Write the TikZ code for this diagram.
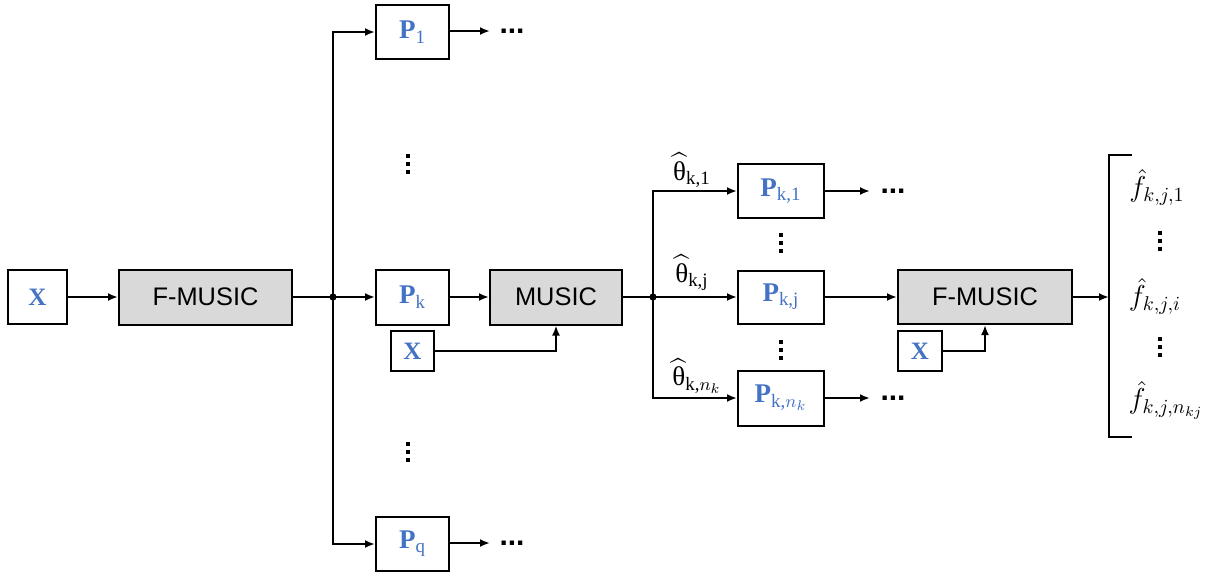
\documentclass[tikz,border=0pt]{standalone}
\usepackage{amsmath}
\usepackage{fontspec}
\setmainfont{Liberation Sans}
\newfontfamily\serif{Liberation Serif}
\usetikzlibrary{arrows.meta}
\definecolor{pblue}{HTML}{4472C4}
\definecolor{boxgray}{HTML}{D9D9D9}
\newcommand\sr[1]{\text{\serif #1}}
\newcommand\PP[1]{\textcolor{pblue}{\fontsize{13.5}{15}\selectfont$\text{\serif\bfseries P}_{#1}$}}
\newcommand\XX{\textcolor{pblue}{\fontsize{12.5}{14}\selectfont\serif\bfseries X}}
\newcommand\vdts[2]{\fill (#1-1.8,#2-9.8) rectangle (#1+1.8,#2-6.2);
  \fill (#1-1.8,#2-1.8) rectangle (#1+1.8,#2+1.8);
  \fill (#1-1.8,#2+6.2) rectangle (#1+1.8,#2+9.8);}
\begin{document}
\begin{tikzpicture}[x=0.5pt,y=-0.5pt,
  box/.style={draw, line width=1pt, inner sep=0pt, fill=white, font=\fontsize{12.7}{14}\selectfont},
  gbox/.style={box, fill=boxgray},
  arr/.style={line width=1pt, -{Latex[length=5pt,width=4pt]}},
  ln/.style={line width=1pt},
  tl/.style={inner sep=0pt, font=\fontsize{13.5}{15}\selectfont},
  fl/.style={inner sep=0pt, font=\fontsize{14}{16}\selectfont},
  hd/.style={inner sep=0pt, font=\fontsize{15}{16}\selectfont\bfseries}]
\useasboundingbox (0,0) rectangle (1205,574);
% boxes
\node[box, minimum width=29.5pt, minimum height=27pt] (xin) at (37.5,297) {\XX};
\node[gbox, minimum width=86.5pt, minimum height=27.5pt] (fm1) at (205.5,297) {F-MUSIC};
\node[box, minimum width=36.5pt, minimum height=27pt] (p1) at (412.5,32) {\PP{\sr{1}}};
\node[box, minimum width=36.5pt, minimum height=27.5pt] (pk) at (412.5,297) {\PP{\sr{k}}};
\node[box, minimum width=21.5pt, minimum height=20pt] (xk) at (412.5,351) {\XX};
\node[gbox, minimum width=66pt, minimum height=27.5pt] (mu) at (556,297) {MUSIC};
\node[box, minimum width=36.5pt, minimum height=27pt] (pq) at (412.5,544) {\PP{\sr{q}}};
\node[box, minimum width=43pt, minimum height=27pt] (pk1) at (781,191) {\PP{\sr{k,1}}};
\node[box, minimum width=43pt, minimum height=26.5pt] (pkj) at (781,297) {\PP{\sr{k,j}}};
\node[box, minimum width=43pt, minimum height=27.5pt] (pkn) at (781,398) {\PP{\sr{k,}n_k}};
\node[gbox, minimum width=87pt, minimum height=27pt] (fm2) at (985,297) {F-MUSIC};
\node[box, minimum width=22pt, minimum height=20pt] (xf) at (920,351) {\XX};
% junctions
\coordinate (j1) at (333,297);
\coordinate (j2) at (653,297);
\fill (j1) circle (1.8pt);
\fill (j2) circle (1.8pt);
% connectors
\draw[arr] (xin) -- (fm1);
\draw[ln] (fm1.east) -- (j1);
\draw[arr] (j1) -- (pk);
\draw[arr] (j1) |- (p1.west);
\draw[arr] (j1) |- (pq.west);
\coordinate (e1) at (490,31);
\coordinate (eq) at (490,543);
\draw[arr] (p1.east |- e1) -- (e1);
\draw[arr] (pq.east |- eq) -- (eq);
\node[hd] (d1) at (512,31) {...};
\node[hd] (dq) at (512,543) {...};
\draw[arr] (pk) -- (mu);
\draw[arr] (xk.east) -| (mu.south);
\draw[ln] (mu.east) -- (j2);
\draw[arr] (j2) -- (pkj);
\draw[arr] (j2) |- (pk1.west);
\draw[arr] (j2) |- (pkn.west);
\coordinate (e2) at (870,191);
\coordinate (e3) at (870,398);
\draw[arr] (pk1.east) -- (e2);
\draw[arr] (pkn.east) -- (e3);
\node[hd] (d2) at (893,191) {...};
\node[hd] (d3) at (893,398) {...};
\draw[arr] (pkj) -- (fm2);
\draw[arr] (xf.east) -| (fm2.south);
\coordinate (br) at (1109,297);
\draw[arr] (fm2.east) -- (br);
\draw[ln] (1132,155) -- (1109,155) -- (1109,437) -- (1132,437);
% vertical dots
\vdts{408}{164}
\vdts{408}{452}
\vdts{781}{243}
\vdts{781}{350}
\vdts{1160}{241}
\vdts{1160}{347}
% theta labels
\node[tl] (t1) at (692,170) {$\widehat{\text{\serif θ}}_{\sr{k,1}}$};
\node[tl] (t2) at (692,273) {$\widehat{\text{\serif θ}}_{\sr{k,j}}$};
\node[tl] (t3) at (697,376) {$\widehat{\text{\serif θ}}_{\sr{k,}n_k}$};
% f labels
\node[fl] (f1) at (1157,187) {$\hat{f}_{k,j,1}$};
\node[fl] (f2) at (1155,296) {$\hat{f}_{k,j,i}$};
\node[fl] (f3) at (1166,400) {$\hat{f}_{k,j,n_{kj}}$};
\end{tikzpicture}
\end{document}
